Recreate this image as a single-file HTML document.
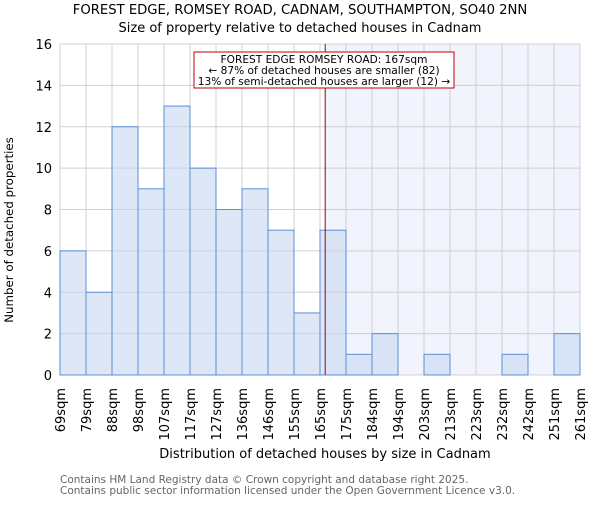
<!DOCTYPE html>
<html><head><meta charset="utf-8"><style>body{margin:0;background:#fff}svg{font-family:"DejaVu Sans","Liberation Sans",sans-serif}</style></head>
<body>
<svg id="c" width="600" height="500" xmlns="http://www.w3.org/2000/svg">
<text x="300" y="14" text-anchor="middle" font-size="13.2">FOREST EDGE, ROMSEY ROAD, CADNAM, SOUTHAMPTON, SO40 2NN</text>
<text x="300" y="32" text-anchor="middle" font-size="13">Size of property relative to detached houses in Cadnam</text>
<g id="g"></g>
<text x="325" y="458" text-anchor="middle" font-size="13">Distribution of detached houses by size in Cadnam</text>
<text transform="translate(13,230) rotate(-90)" text-anchor="middle" font-size="11.8">Number of detached properties</text>
<text x="60" y="483" font-size="10.5" fill="#666">Contains HM Land Registry data © Crown copyright and database right 2025.</text>
<text x="60" y="494" font-size="10.5" fill="#666">Contains public sector information licensed under the Open Government Licence v3.0.</text>
</svg>
<script>
const labels=["69sqm","79sqm","88sqm","98sqm","107sqm","117sqm","127sqm","136sqm","146sqm","155sqm","165sqm","175sqm","184sqm","194sqm","203sqm","213sqm","223sqm","232sqm","242sqm","251sqm","261sqm"];
const counts=[6,4,12,9,13,10,8,9,7,3,7,1,2,0,1,0,0,1,0,2];
const yTicks=[0,2,4,6,8,10,12,14,16];
const markerBin=10.2;
const NS="http://www.w3.org/2000/svg",g=document.getElementById('g');
const L=60,R=580,T=44,B=375,bw=(R-L)/counts.length;
const x=i=>L+i*bw, y=v=>B-(v/16)*(B-T);
function el(t,a,p){const e=document.createElementNS(NS,t);for(const k in a)e.setAttribute(k,a[k]);(p||g).appendChild(e);return e;}
const mx=x(markerBin);
let s=el('rect',{x:mx,y:T,width:R-mx,height:B-T,fill:'#f1f4fc'});


for(let i=0;i<=counts.length;i++){let l=el('line',{x1:x(i),x2:x(i),y1:T,y2:B,stroke:'#d0d0d0'});}
yTicks.forEach(v=>{let l=el('line',{x1:L,x2:R,y1:y(v),y2:y(v),stroke:'#d0d0d0'});
let t=el('text',{x:L-8,y:y(v)+5,'text-anchor':'end','font-size':13});t.textContent=v;});
counts.forEach((c,i)=>{if(!c)return;let r=el('rect',{x:x(i),y:y(c),width:bw,height:B-y(c),fill:'rgba(200,215,240,0.6)',stroke:'#5b8fd6','stroke-width':1});});
labels.forEach((lb,i)=>{let t=el('text',{transform:`translate(${x(i)+5},388) rotate(-90)`,'text-anchor':'end','font-size':13});t.textContent=lb;});
let m=el('line',{x1:mx,x2:mx,y1:T,y2:B,stroke:'#a00000','stroke-width':1});


let bx=el('g',{});


el('rect',{x:194,y:52,width:260,height:36,fill:'#fff',stroke:'#c00000'},bx);
[["FOREST EDGE ROMSEY ROAD: 167sqm",63],["← 87% of detached houses are smaller (82)",74],["13% of semi-detached houses are larger (12) →",85]].forEach(a=>{let t=el('text',{x:324,y:a[1],'text-anchor':'middle','font-size':10.6},bx);t.textContent=a[0];});
</script>
</body></html>
